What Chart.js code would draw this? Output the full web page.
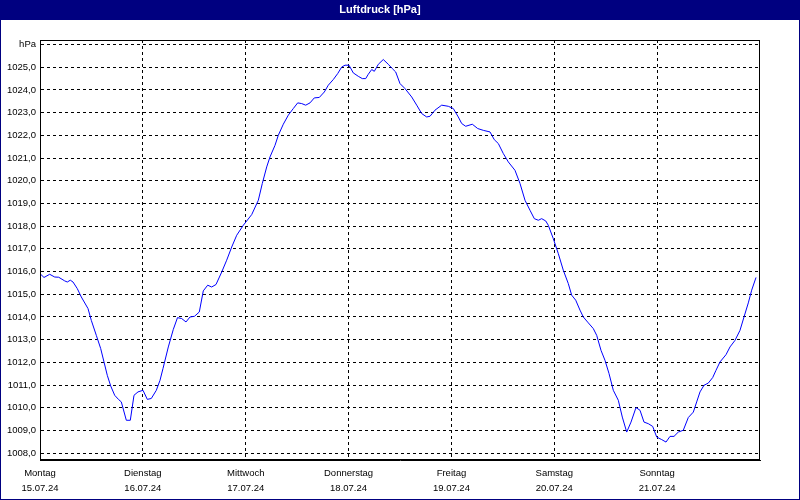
<!DOCTYPE html>
<html>
<head>
<meta charset="utf-8">
<script src="https://cdn.jsdelivr.net/npm/chart.js@4.4.0/dist/chart.umd.min.js"></script>
<style>
  html, body { margin: 0; padding: 0; background: #ffffff; }
  canvas { display: block; }
</style>
</head>
<body>
<canvas id="c" width="800" height="500"></canvas>
<script>
const chartTitle = 'Luftdruck [hPa]';
const dayNames = ['Montag', 'Dienstag', 'Mittwoch', 'Donnerstag', 'Freitag', 'Samstag', 'Sonntag'];
const dayDates = ['15.07.24', '16.07.24', '17.07.24', '18.07.24', '19.07.24', '20.07.24', '21.07.24'];
const dayTickHours = [0, 24, 48, 72, 96, 120, 144];
const yTickValues = [1008, 1009, 1010, 1011, 1012, 1013, 1014, 1015, 1016, 1017, 1018, 1019, 1020, 1021, 1022, 1023, 1024, 1025, 1026];
const yUnitLabel = 'hPa';

// hours since Monday 15.07.24 00:00
const hours = [
  0, 0.93, 2.26, 3.43, 4.36, 5.76, 6.37, 7.07, 7.7, 8.7,
  9.64, 11.2, 11.97, 13.14, 14.16, 14.93, 15.7, 16.5, 17.43, 18.36,
  18.97, 20.14, 21.07, 21.93, 22.87, 24.03, 25.04, 25.97, 27.14, 28.0,
  28.7, 29.94, 31.1, 32.08, 33.06, 34.07, 35.0, 36.05, 37.17, 38.1,
  39.13, 40.06, 41.07, 42.4, 43.56, 44.73, 45.9, 47.44, 49.4, 50.94,
  51.87, 52.9, 53.67, 54.83, 55.6, 56.77, 57.94, 59.1, 60.13, 61.06,
  62.0, 63.0, 64.0, 65.17, 66.34, 67.27, 68.44, 69.46, 70.4, 71.17,
  72.1, 73.1, 74.27, 75.2, 76.0, 76.6, 77.4, 78.0, 78.94, 80.1,
  81.27, 82.2, 83.0, 84.0, 85.17, 86.73, 87.9, 89.06, 90.23, 91.0,
  92.17, 93.73, 95.27, 96.44, 97.6, 98.4, 99.33, 100.87, 102.13, 103.44,
  105.0, 106.0, 106.94, 108.1, 109.27, 110.83, 112.0, 113.17, 114.33, 115.34,
  116.27, 117.06, 118.0, 118.6, 119.77, 120.94, 122.1, 123.27, 124.06, 125.0,
  126.0, 126.77, 127.94, 129.1, 129.9, 130.9, 131.83, 132.77, 133.77, 134.94,
  135.87, 136.9, 137.9, 139.07, 140.0, 140.93, 141.94, 142.96, 143.9, 145.06,
  146.07, 147.0, 147.93, 148.94, 150.1, 151.27, 152.44, 153.23, 154.0, 154.93,
  155.94, 156.96, 157.73, 158.67, 160.07, 161.0, 162.17, 163.33, 164.27, 165.27,
  166.06, 167.07
];
const pressure = [
  1015.91, 1015.74, 1015.88, 1015.76, 1015.75, 1015.59, 1015.54, 1015.62, 1015.54, 1015.25,
  1014.88, 1014.37, 1013.85, 1013.19, 1012.61, 1012.02, 1011.43, 1010.96, 1010.55, 1010.36,
  1010.26, 1009.45, 1009.45, 1010.55, 1010.70, 1010.77, 1010.37, 1010.41, 1010.77, 1011.21,
  1011.73, 1012.68, 1013.45, 1013.97, 1013.93, 1013.78, 1014.00, 1014.03, 1014.22, 1015.15,
  1015.40, 1015.32, 1015.43, 1015.98, 1016.50, 1017.08, 1017.60, 1018.04, 1018.51, 1019.14,
  1019.88, 1020.61, 1021.05, 1021.56, 1022.00, 1022.49, 1022.89, 1023.18, 1023.43, 1023.40,
  1023.33, 1023.43, 1023.65, 1023.67, 1023.91, 1024.21, 1024.46, 1024.72, 1025.01, 1025.09,
  1025.09, 1024.75, 1024.60, 1024.50, 1024.50, 1024.69, 1024.90, 1024.82, 1025.13, 1025.34,
  1025.13, 1024.94, 1024.79, 1024.28, 1024.06, 1023.69, 1023.33, 1022.96, 1022.81, 1022.84,
  1023.11, 1023.33, 1023.28, 1023.18, 1022.81, 1022.52, 1022.40, 1022.49, 1022.30, 1022.22,
  1022.15, 1021.81, 1021.64, 1021.20, 1020.83, 1020.46, 1019.88, 1019.14, 1018.70, 1018.33,
  1018.26, 1018.33, 1018.23, 1018.04, 1017.45, 1016.79, 1016.06, 1015.47, 1014.96, 1014.74,
  1014.30, 1014.00, 1013.74, 1013.49, 1013.19, 1012.53, 1012.09, 1011.51, 1010.77, 1010.33,
  1009.59, 1008.93, 1009.37, 1010.01, 1009.89, 1009.37, 1009.30, 1009.18, 1008.71, 1008.60,
  1008.49, 1008.74, 1008.74, 1008.93, 1009.01, 1009.57, 1009.81, 1010.26, 1010.70, 1010.99,
  1011.09, 1011.33, 1011.65, 1012.02, 1012.34, 1012.68, 1012.97, 1013.41, 1014.00, 1014.62,
  1015.18, 1015.74
];

const NAVY = '#000080';
const FONT = "'Liberation Sans', Arial, sans-serif";

const framePlugin = {
  id: 'frame',
  beforeDraw(chart) {
    const ctx = chart.ctx;
    ctx.save();
    ctx.fillStyle = '#ffffff';
    ctx.fillRect(0, 0, chart.width, chart.height);
    ctx.fillStyle = NAVY;
    ctx.fillRect(0, 0, chart.width, 20);
    ctx.restore();
  },
  afterDraw(chart) {
    const ctx = chart.ctx;
    const a = chart.chartArea;
    ctx.save();
    ctx.strokeStyle = '#000000';
    ctx.lineWidth = 1;
    ctx.setLineDash([]);
    ctx.strokeRect(Math.round(a.left) + 0.5, Math.round(a.top) + 0.5,
                   Math.round(a.right - a.left) - 1, Math.round(a.bottom - a.top) - 1);
    ctx.strokeStyle = NAVY;
    ctx.strokeRect(0.5, 0.5, chart.width - 1, chart.height - 1);
    ctx.restore();
  }
};

new Chart(document.getElementById('c'), {
  type: 'line',
  data: {
    datasets: [{
      data: hours.map((h, i) => ({ x: h, y: pressure[i] })),
      borderColor: '#0000ff',
      borderWidth: 1,
      pointRadius: 0,
      tension: 0,
      fill: false
    }]
  },
  options: {
    responsive: false,
    animation: false,
    devicePixelRatio: 1,
    layout: { padding: { top: 0, left: 0, right: 40, bottom: 0 } },
    plugins: {
      legend: { display: false },
      tooltip: { enabled: false },
      title: {
        display: true,
        text: chartTitle,
        color: '#ffffff',
        font: { family: FONT, size: 11, weight: 'bold', lineHeight: 12 / 11 },
        padding: { top: 4, bottom: 24 }
      }
    },
    scales: {
      x: {
        type: 'linear',
        min: 0,
        max: 168,
        afterFit(scale) { scale.height = 40; },
        afterBuildTicks(scale) { scale.ticks = dayTickHours.map(v => ({ value: v })); },
        grid: { color: '#000000', lineWidth: 1, drawTicks: false },
        border: { display: true, color: '#000000', dash: [3, 3] },
        ticks: {
          color: '#000000',
          padding: 6,
          maxRotation: 0,
          autoSkip: false,
          font: { family: FONT, size: 9.5, lineHeight: 15 / 9.5 },
          callback(value) {
            const i = dayTickHours.indexOf(value);
            return i >= 0 ? [dayNames[i], dayDates[i]] : '';
          }
        }
      },
      y: {
        type: 'linear',
        min: 1007.7,
        max: 1026.2,
        afterFit(scale) { scale.width = 40; },
        afterBuildTicks(scale) { scale.ticks = yTickValues.map(v => ({ value: v })); },
        grid: { color: '#000000', lineWidth: 1, drawTicks: false },
        border: { display: true, color: '#000000', dash: [3, 3] },
        ticks: {
          color: '#000000',
          padding: 4,
          autoSkip: false,
          font: { family: FONT, size: 9.5 },
          callback(value) {
            return value === 1026 ? yUnitLabel : value.toFixed(1).replace('.', ',');
          }
        }
      }
    }
  },
  plugins: [framePlugin]
});
</script>
</body>
</html>
